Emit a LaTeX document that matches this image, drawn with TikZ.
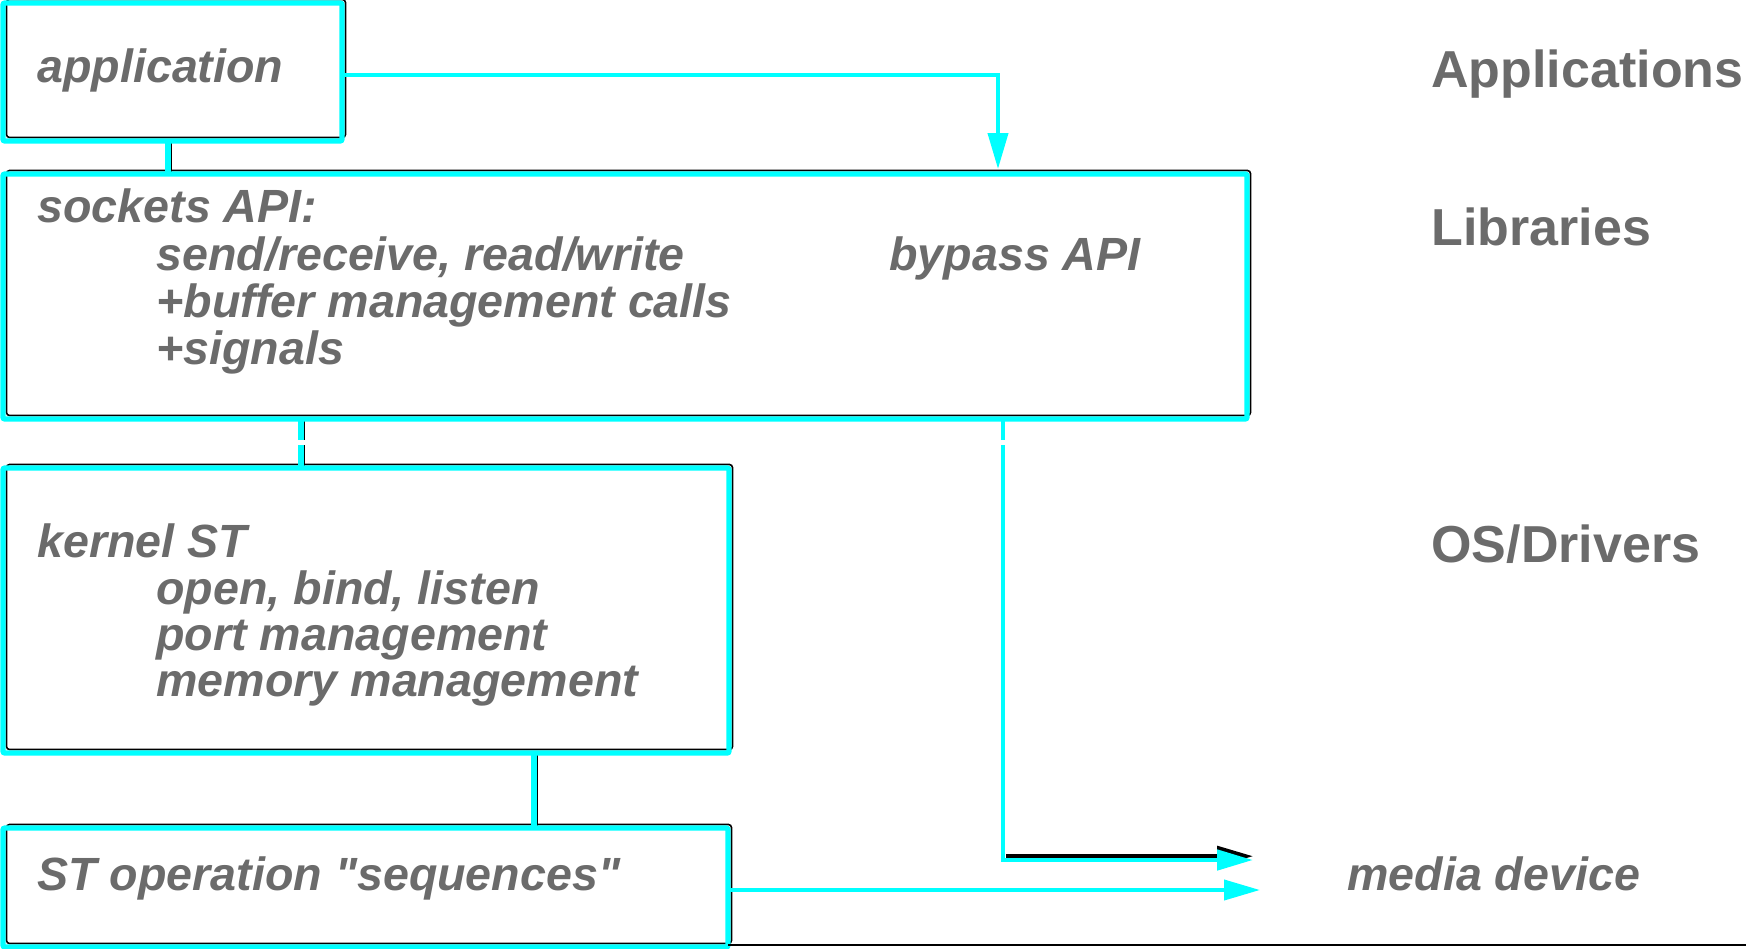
\documentclass[tikz,border=0pt]{standalone}
\usepackage{fontspec}
\setmainfont[Ligatures=TeXOff]{Liberation Sans}
\usetikzlibrary{arrows.meta,fit}
\definecolor{cy}{RGB}{0,255,255}
\definecolor{tx}{RGB}{107,107,107}
\begin{document}
\begin{tikzpicture}[x=0.5pt,y=-0.5pt,
  area/.style={inner sep=0pt, outer sep=0pt},
  shadowshift/.style={transform canvas={shift={(1.75pt,1.75pt)}}},
  shadowbox/.style={draw=black, line width=0.8pt, rounded corners=1.5pt},
  cyanbox/.style={draw=cy, line width=2.7pt, rounded corners=1pt},
  shadowline/.style={draw=black, line width=0.8pt},
  cyanline/.style={draw=cy, line width=2.6pt},
  tipshape/.style={-{Triangle[length=18pt,width=10pt]}},
  thinarrow/.style={draw=cy, line width=2pt, tipshape},
  lefttext/.style={anchor=base west, inner sep=0pt, text=tx, font=\fontsize{23.3pt}{27pt}\selectfont\bfseries\itshape},
  layertext/.style={anchor=base west, inner sep=0pt, text=tx, font=\fontsize{26pt}{30pt}\selectfont\bfseries},
]
\useasboundingbox (0,0) rectangle (1746,948);

% box areas
\node[area, fit={(3,3) (342,141)}] (app) {};
\node[area, fit={(3,174) (1247,419)}] (sock) {};
\node[area, fit={(3,468) (729,753)}] (kern) {};
\node[area, fit={(3,828) (728,947)}] (stop) {};

% helper coordinates
\coordinate (xa) at (168,0);
\coordinate (xk) at (301,0);
\coordinate (xs) at (534,0);
\coordinate (xb) at (998,0);
\coordinate (ya) at (0,75);
\coordinate (xc) at (1003,0);
\coordinate (yb) at (0,860);
\coordinate (xd) at (1253,0);
\coordinate (xd0) at (1006,0);
\coordinate (yc) at (0,890);
\coordinate (xe) at (1260,0);
\coordinate (br) at (1746,945);

% shadows of boxes
\foreach \n in {app,sock,kern,stop}
  \draw[shadowbox, shadowshift] (\n.south west) rectangle (\n.north east);

% shadows of vertical connectors
\draw[shadowline, transform canvas={xshift=1.75pt}] (app.south -| xa) -- (sock.north -| xa);
\draw[shadowline, transform canvas={xshift=1.75pt}] (sock.south -| xk) -- (kern.north -| xk);
\draw[shadowline, transform canvas={xshift=1.75pt}] (kern.south -| xs) -- (stop.north -| xs);

% cyan boxes
\foreach \n in {app,sock,kern,stop}
  \draw[cyanbox] (\n.south west) rectangle (\n.north east);

% cyan vertical connectors
\draw[cyanline] (app.south -| xa) -- (sock.north -| xa);
\draw[cyanline] (sock.south -| xk) -- (kern.north -| xk);
\draw[cyanline] (kern.south -| xs) -- (stop.north -| xs);

% application -> bypass API
\draw[thinarrow, shorten >=2.5pt] (app.east |- ya) -| (xb |- sock.north);

% bypass path to media device
\draw[draw=black, line width=2pt, tipshape, transform canvas={yshift=1.9pt}]
  (xd0 |- yb) -- (xd |- yb);
\draw[draw=cy, line width=2.4pt, tipshape] (xc |- sock.south) |- (xd |- yb);

% ST operation -> media device
\draw[thinarrow] (stop.east |- yc) -- (xe |- yc);

% small white breaks in the vertical lines
\fill[white] (288,440) rectangle (316,445);
\fill[white] (990,440) rectangle (1016,445);

% bottom rule
\draw[black, line width=0.8pt] (stop.east |- br) -- (br);

% texts
\node[lefttext] (t1) at (37,82) {application};
\node[lefttext] (t2) at (37,222) {sockets API:};
\node[lefttext] (t3) at (156,270) {send/receive, read/write};
\node[lefttext] (t4) at (156,317) {+buffer management calls};
\node[lefttext] (t5) at (156,364) {+signals};
\node[lefttext] (t6) at (889,270) {bypass API};
\node[lefttext] (t7) at (37,557) {kernel ST};
\node[lefttext] (t8) at (156,604) {open, bind, listen};
\node[lefttext] (t9) at (156,650) {port management};
\node[lefttext] (t10) at (156,696) {memory management};
\node[lefttext] (t11) at (37,890) {ST operation "sequences"};
\node[lefttext] (t12) at (1347,890) {media device};
\node[layertext] (l1) at (1431,87) {Applications};
\node[layertext] (l2) at (1431,245) {Libraries};
\node[layertext] (l3) at (1431,562) {OS/Drivers};
\end{tikzpicture}
\end{document}
